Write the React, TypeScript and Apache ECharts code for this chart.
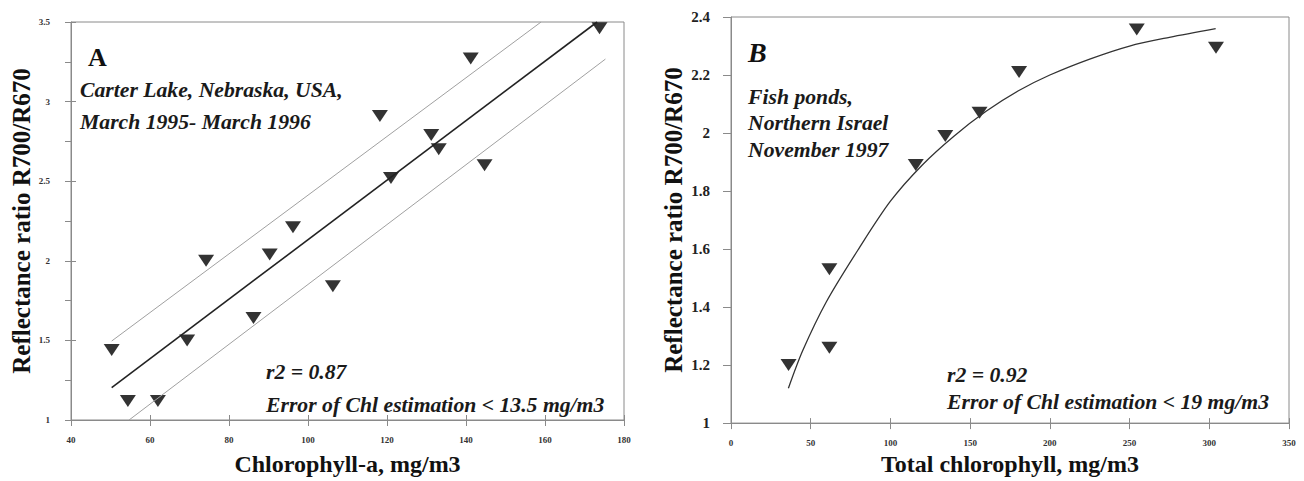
import React, { useEffect, useRef } from "react";
import * as echarts from "echarts";

// Panel A data (Carter Lake)
const chlA = [50.3, 54.4, 62.0, 69.4, 74.2, 86.2, 90.3, 96.2, 106.3, 118.2, 121.0, 131.2, 133.1, 141.2, 144.7, 173.8];
const ratioA = [1.44, 1.12, 1.12, 1.5, 2.0, 1.64, 2.04, 2.21, 1.84, 2.91, 2.52, 2.79, 2.7, 3.27, 2.6, 3.46];
// regression line and error band endpoints
const fitAx = [50.3, 173.2];
const fitAy = [1.204, 3.5];
const upperAx = [50.3, 159];
const upperAy = [1.496, 3.5];
const lowerAx = [54.7, 175.3];
const lowerAy = [1.0, 3.267];

// Panel B data (Fish ponds)
const chlB = [36.1, 61.7, 61.7, 115.9, 134.4, 155.9, 180.7, 254.5, 304.2];
const ratioB = [1.2, 1.53, 1.26, 1.89, 1.99, 2.07, 2.21, 2.357, 2.294];
const curveBx = [36, 45, 60, 80, 100, 120, 140, 160, 180, 200, 225, 250, 275, 304];
const curveBy = [1.12, 1.25, 1.42, 1.6, 1.765, 1.89, 1.99, 2.075, 2.145, 2.2, 2.255, 2.3, 2.33, 2.36];

const xTicksA = ["40", "60", "80", "100", "120", "140", "160", "180"];
const yTicksA = ["1", "1.5", "2", "2.5", "3", "3.5"];
const xTicksB = ["0", "50", "100", "150", "200", "250", "300", "350"];
const yTicksB = ["1", "1.2", "1.4", "1.6", "1.8", "2", "2.2", "2.4"];

const SERIF = '"Liberation Serif", "DejaVu Serif", serif';
const AXIS_COLOR = "#8a8a8a";

const zip = (xs: number[], ys: number[]) => xs.map((x, i) => [x, ys[i]]);

export default function App() {
  const ref = useRef<HTMLDivElement>(null);
  useEffect(() => {
    if (!ref.current) return;
    const chart = echarts.init(ref.current, undefined, { renderer: "svg" });
    const tickLbl = (list: string[], size: number, margin: number) => ({
      fontFamily: SERIF,
      fontWeight: "bold" as const,
      fontSize: size,
      color: "#333",
      margin,
      formatter: (v: number) => {
        const s = String(Math.round(v * 100) / 100);
        return list.includes(s) ? s : "";
      },
    });
    const nameStyle = (size: number) => ({ fontFamily: SERIF, fontWeight: "bold" as const, fontSize: size, color: "#111" });
    const lineStyle = { color: AXIS_COLOR, width: 1 };

    const txt = (text: string, x: number, y: number, font: string, fill = "#1a1a1a") => ({
      type: "text",
      x,
      y,
      style: { text, font, fill, align: "left", verticalAlign: "middle", textAlign: "left", textVerticalAlign: "middle" },
    });
    const itFont = `italic bold 21.7px ${SERIF}`;

    chart.setOption({
      animation: false,
      backgroundColor: "#fff",
      grid: [
        { left: 71, top: 22, width: 553, height: 400, show: true, borderColor: AXIS_COLOR, borderWidth: 1 },
        { left: 731, top: 17, width: 558, height: 409, show: true, borderColor: AXIS_COLOR, borderWidth: 1 },
      ],
      xAxis: [
        {
          gridIndex: 0, type: "value", min: 40, max: 180, interval: 20, position: "bottom",
          name: "Chlorophyll-a, mg/m3", nameLocation: "middle", nameGap: 32, nameTextStyle: nameStyle(24),
          axisLine: { lineStyle }, axisTick: { show: true, length: 6, lineStyle }, splitLine: { show: false },
          axisLabel: tickLbl(xTicksA, 9, 15),
        },
        {
          gridIndex: 1, type: "value", min: 0, max: 350, interval: 50, position: "bottom",
          name: "Total chlorophyll, mg/m3", nameLocation: "middle", nameGap: 28, nameTextStyle: nameStyle(24),
          axisLine: { lineStyle }, axisTick: { show: true, length: 6, lineStyle }, splitLine: { show: false },
          axisLabel: tickLbl(xTicksB, 9, 15),
        },
        {
          gridIndex: 0, type: "value", min: 40, max: 180, interval: 20, position: "bottom",
          axisLine: { show: false }, axisTick: { show: true, inside: true, length: 5, lineStyle },
          axisLabel: { show: false }, splitLine: { show: false },
        },
        {
          gridIndex: 1, type: "value", min: 0, max: 350, interval: 50, position: "bottom",
          axisLine: { show: false }, axisTick: { show: true, inside: true, length: 5, lineStyle },
          axisLabel: { show: false }, splitLine: { show: false },
        },
      ],
      yAxis: [
        {
          gridIndex: 0, type: "value", min: 1, max: 3.5, interval: 0.5, position: "left",
          name: "Reflectance ratio R700/R670", nameLocation: "middle", nameGap: 37, nameTextStyle: nameStyle(25),
          axisLine: { show: true, lineStyle }, axisTick: { show: true, length: 6, lineStyle },
          minorTick: { show: true, splitNumber: 2, length: 6, lineStyle },
          splitLine: { show: false },
          axisLabel: tickLbl(yTicksA, 9, 21),
        },
        {
          gridIndex: 1, type: "value", min: 1, max: 2.4, interval: 0.2, position: "left",
          name: "Reflectance ratio R700/R670", nameLocation: "middle", nameGap: 45, nameTextStyle: nameStyle(25),
          axisLine: { show: true, lineStyle }, axisTick: { show: true, length: 8, lineStyle },
          splitLine: { show: false },
          axisLabel: { ...tickLbl(yTicksB, 15, 21), color: "#222" },
        },
        {
          gridIndex: 0, type: "value", min: 1, max: 3.5, interval: 0.5, position: "left",
          axisLine: { show: false }, axisTick: { show: true, inside: true, length: 5, lineStyle },
          minorTick: { show: false },
          axisLabel: { show: false }, splitLine: { show: false },
        },
      ],
      series: [
        {
          type: "line", xAxisIndex: 0, yAxisIndex: 0, data: zip(upperAx, upperAy), symbol: "none",
          lineStyle: { color: "#a0a0a0", width: 1 }, silent: true,
        },
        {
          type: "line", xAxisIndex: 0, yAxisIndex: 0, data: zip(lowerAx, lowerAy), symbol: "none",
          lineStyle: { color: "#a0a0a0", width: 1 }, silent: true,
        },
        {
          type: "line", xAxisIndex: 0, yAxisIndex: 0, data: zip(fitAx, fitAy), symbol: "none",
          lineStyle: { color: "#222", width: 1.6 }, silent: true,
        },
        {
          type: "scatter", xAxisIndex: 0, yAxisIndex: 0, data: zip(chlA, ratioA),
          symbol: "triangle", symbolRotate: 180, symbolSize: [16, 12], itemStyle: { color: "#000" },
        },
        {
          type: "line", xAxisIndex: 1, yAxisIndex: 1, data: zip(curveBx, curveBy), symbol: "none", smooth: 0.3,
          lineStyle: { color: "#333", width: 1.3 }, silent: true,
        },
        {
          type: "scatter", xAxisIndex: 1, yAxisIndex: 1, data: zip(chlB, ratioB),
          symbol: "triangle", symbolRotate: 180, symbolSize: [16, 12], itemStyle: { color: "#000" },
        },
      ],
      graphic: [
        txt("A", 88, 57, `bold 26px ${SERIF}`, "#111"),
        txt("Carter Lake, Nebraska, USA,", 80, 90, itFont),
        txt("March 1995- March 1996", 80, 122, itFont),
        txt("r2 = 0.87", 266, 372, itFont),
        txt("Error of Chl estimation < 13.5 mg/m3", 266, 405, itFont),
        txt("B", 748, 52, `italic bold 28px ${SERIF}`, "#111"),
        txt("Fish ponds,", 748, 97, itFont),
        txt("Northern Israel", 748, 123, itFont),
        txt("November 1997", 748, 150, itFont),
        txt("r2 = 0.92", 947, 375, itFont),
        txt("Error of Chl estimation < 19 mg/m3", 947, 402, itFont),
      ],
    });
    return () => chart.dispose();
  }, []);
  return (
    <div
      ref={ref}
      style={{ position: "absolute", left: 0, top: 0, width: 1304, height: 481, background: "#fff" }}
    />
  );
}
